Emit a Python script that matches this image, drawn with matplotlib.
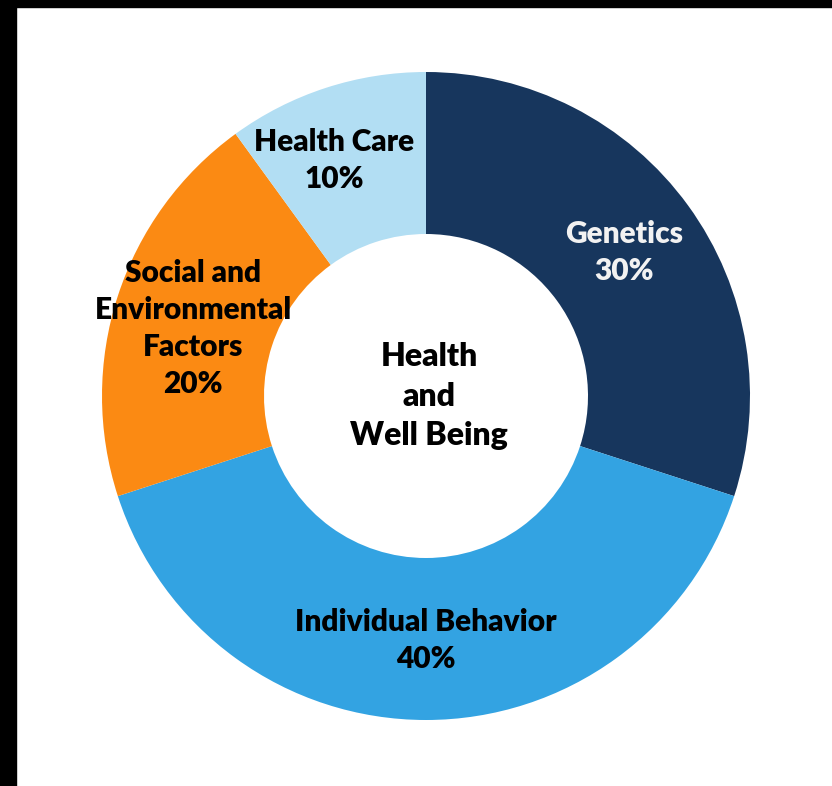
import numpy as np
import matplotlib.pyplot as plt
from matplotlib.patches import Rectangle

# ── data ───────────────────────────────────────────────────────────────────────
categories = ["Genetics", "Individual Behavior", "Social and\nEnvironmental\nFactors", "Health Care"]
shares     = [30, 40, 20, 10]
colors     = ["#17365d", "#33a3e2", "#fb8a13", "#b2def3"]
text_cols  = ["#f2f2f2", "black", "black", "black"]
center_txt = "Health\nand\nWell Being"

plt.rcParams["font.family"] = ["Lato", "DejaVu Sans"]

W, H = 832, 786
fig = plt.figure(figsize=(W / 100, H / 100), dpi=100)
fig.patch.set_facecolor("white")

# pie centre (426, 396) px, outer radius 324 px
cx, cy, R = 426, 396, 324
ax = fig.add_axes([(cx - R) / W, (H - cy - R) / H, 2 * R / W, 2 * R / H])

wedges, _ = ax.pie(
    shares, colors=colors, startangle=90, counterclock=False, radius=1,
    wedgeprops=dict(width=0.5, linewidth=0),
)
# pie() pads the limits to 1.25, pull them back so the ring fills the axes
ax.set_xlim(-1, 1)
ax.set_ylim(-1, 1)
ax.axis("off")

# small hand nudges so the multi-line labels sit nicely in their wedges
nudge = {"Health Care": (-0.05, 0.01), "Social and\nEnvironmental\nFactors": (0.0, -0.025)}

# labels sit in the middle of the ring
for w, name, val, tc in zip(wedges, categories, shares, text_cols):
    mid = np.deg2rad((w.theta1 + w.theta2) / 2)
    r = 0.755
    dx, dy = nudge.get(name, (0.0, 0.0))
    ax.text(r * np.cos(mid) + dx, r * np.sin(mid) + dy, f"{name}\n{val}%",
            ha="center", va="center", fontsize=21.5, fontweight="heavy",
            color=tc, linespacing=1.4)

ax.text(0.01, 0.0, center_txt, ha="center", va="center", fontsize=23,
        fontweight="heavy", color="black", linespacing=1.45)

# black frame strips along top and left edges
fig.add_artist(Rectangle((0, 1 - 7 / H), 1, 7 / H, transform=fig.transFigure,
                         color="black", zorder=10))
fig.add_artist(Rectangle((0, 0), 16 / W, 1, transform=fig.transFigure,
                         color="black", zorder=10))

fig.savefig("out.png", dpi=100)
